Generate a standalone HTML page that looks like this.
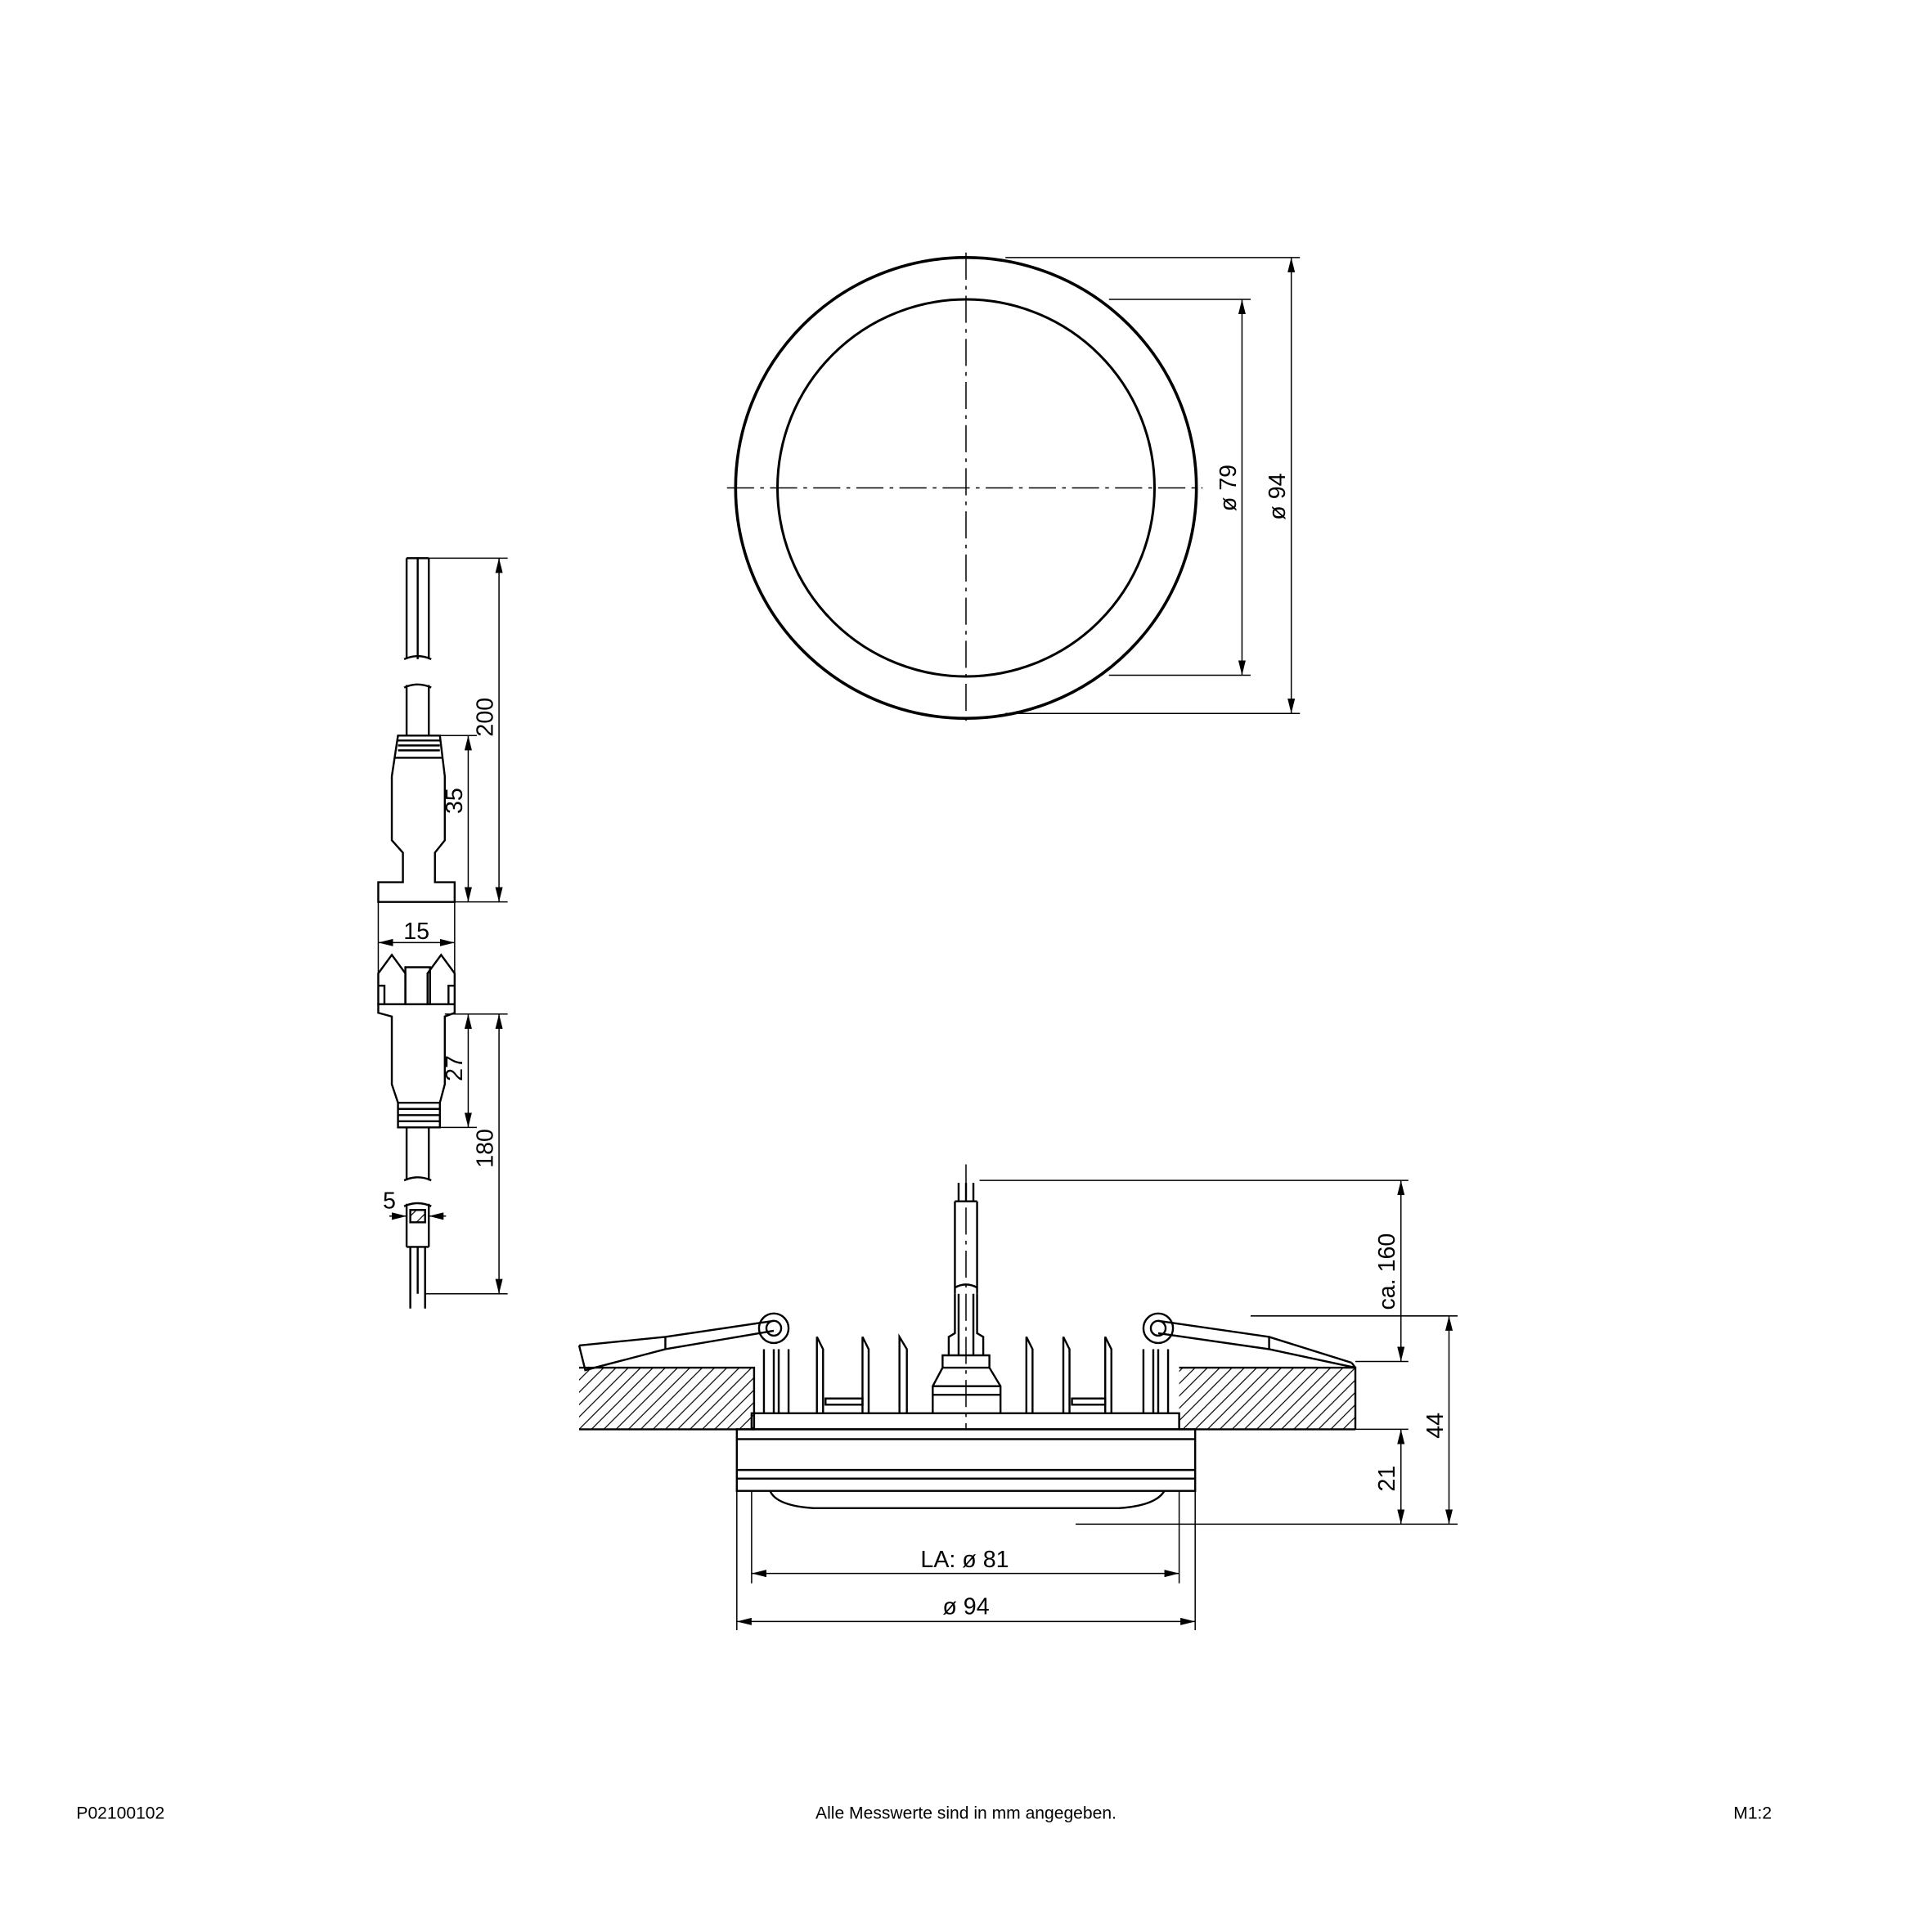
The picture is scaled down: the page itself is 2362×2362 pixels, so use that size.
<!DOCTYPE html>
<html><head><meta charset="utf-8"><style>
html,body{margin:0;padding:0;background:#fff}
svg{display:block}
text{font-family:"Liberation Sans Narrow","Liberation Sans",sans-serif;fill:#000}
</style></head><body>
<svg width="2362" height="2362" viewBox="0 0 1568 1568" xmlns="http://www.w3.org/2000/svg">
<defs>
<marker id="a" viewBox="0 0 12 6" refX="12" refY="3" markerWidth="12" markerHeight="6" orient="auto-start-reverse" markerUnits="userSpaceOnUse"><path d="M0,0 L12,3 L0,6 z" fill="#000"/></marker>
<pattern id="h" width="10" height="10" patternUnits="userSpaceOnUse"><path d="M-2,12 L12,-2 M8,12 L12,8 M-2,2 L2,-2" stroke="#000" stroke-width="0.8"/></pattern>
</defs>
<g fill="none" stroke="#000" stroke-width="1">
<!-- top view -->
<circle cx="784" cy="396" r="187" stroke-width="2.4"/>
<circle cx="784" cy="396" r="153" stroke-width="2"/>
<line x1="784" y1="205" x2="784" y2="590" stroke-dasharray="22,5,3,5"/>
<line x1="590" y1="396" x2="976" y2="396" stroke-dasharray="22,5,3,5"/>
<line x1="816" y1="209" x2="1055" y2="209"/><line x1="816" y1="579" x2="1055" y2="579"/>
<line x1="900" y1="243" x2="1015" y2="243"/><line x1="900" y1="548" x2="1015" y2="548"/>
<line x1="1048" y1="209" x2="1048" y2="579" marker-start="url(#a)" marker-end="url(#a)"/>
<line x1="1008" y1="243" x2="1008" y2="548" marker-start="url(#a)" marker-end="url(#a)"/>

<!-- left connector upper -->
<g stroke-width="1.6">
<path d="M330,453 V535 M348,453 V535 M330,453 H348 M339,453 V535 M328,535 Q339,530 350,535"/>
<path d="M328,558 Q339,553 350,558 M330,556 V597 M348,556 V597"/>
<path d="M323,597 H357 L361,630 V682 L353,692 V716 H369 V732 H307 V716 H327 V692 L318,682 V630 Z"/>
<path d="M323,601 H357 M323,605 H357 M323,609 H357 M320,615 H359"/>
<!-- lower -->
<path d="M307,815 V790 L318,775 L329,790 V815 M369,815 V790 L358,775 L347,790 V815 M307,800 L312,800 L312,815 M369,800 L364,800 L364,815"/>
<path d="M329,785 H349 V815 H329 Z"/>
<path d="M307,815 H369 V822 L361,825 V880 L357,895 H323 L318,880 V825 L307,822 Z"/>
<path d="M323,895 V915 H357 V895 M323,900 H357 M323,905 H357 M323,910 H357"/>
<path d="M330,915 V958 M348,915 V958 M328,958 Q339,953 350,958"/>
<path d="M328,979 Q339,974 350,979 M330,977 V1012 M348,977 V1012 M330,1012 H348 M333,1012 V1050 M345,1012 V1050 M339,1012 V1050 M333,1050 V1062 M345,1050 V1062"/>
<rect x="333" y="982" width="12" height="10" fill="url(#h)"/>
</g>
<line x1="348" y1="453" x2="412" y2="453"/><line x1="369" y1="732" x2="412" y2="732"/>
<line x1="357" y1="597" x2="387" y2="597"/>
<line x1="405" y1="453" x2="405" y2="732" marker-start="url(#a)" marker-end="url(#a)"/>
<line x1="380" y1="597" x2="380" y2="732" marker-start="url(#a)" marker-end="url(#a)"/>
<line x1="307" y1="732" x2="307" y2="790"/><line x1="369" y1="732" x2="369" y2="790"/>
<line x1="307" y1="765" x2="369" y2="765" marker-start="url(#a)" marker-end="url(#a)"/>
<line x1="361" y1="823" x2="412" y2="823"/><line x1="345" y1="1050" x2="412" y2="1050"/>
<line x1="380" y1="823" x2="380" y2="915" marker-start="url(#a)" marker-end="url(#a)"/>
<line x1="357" y1="915" x2="387" y2="915"/>
<line x1="405" y1="823" x2="405" y2="1050" marker-start="url(#a)" marker-end="url(#a)"/>
<line x1="316" y1="987" x2="330" y2="987" marker-end="url(#a)"/>
<line x1="362" y1="987" x2="348" y2="987" marker-end="url(#a)"/>

<!-- side view -->
<g stroke-width="1.6">
<rect x="470" y="1110" width="142" height="50" fill="url(#h)" stroke="none"/>
<rect x="957" y="1110" width="143" height="50" fill="url(#h)" stroke="none"/>
<path d="M470,1160 H612 V1110 H470 M957,1160 H1100 M957,1110 H1100 V1160"/>
<rect x="598" y="1160" width="372" height="50"/>
<path d="M598,1168 H970 M598,1193 H970 M598,1200 H970"/>
<path d="M625,1210 Q630,1222 660,1224 H908 Q938,1222 945,1210"/>
<rect x="610" y="1147" width="347" height="13"/>
<path d="M620,1147 V1095 M628,1147 V1095 M632,1147 V1095 M640,1147 V1095"/>
<path d="M928,1147 V1095 M936,1147 V1095 M940,1147 V1095 M948,1147 V1095"/>
<path d="M663,1147 V1085 L668,1095 V1147 M700,1147 V1085 L705,1095 V1147 M730,1147 V1085 L736,1095 V1147 M833,1147 V1085 L838,1095 V1147 M863,1147 V1085 L868,1095 V1147 M897,1147 V1085 L902,1095 V1147"/>
<path d="M670,1135 H700 V1140 H670 Z M870,1135 H897 V1140 H870 Z"/>
<path d="M757,1147 V1125 L765,1110 V1100 H803 V1110 L812,1125 V1147 M757,1125 H812 M757,1132 H812 M765,1110 H803"/>
<path d="M770,1100 V1085 L775,1082 V1050 M798,1100 V1085 L793,1082 V1050 M778,1100 V1050 M790,1100 V1050"/>
<path d="M775,1050 V975 M793,1050 V975 M775,975 H793 M778,975 V960 M784,975 V960 M790,975 V960 M775,1045 Q784,1040 793,1045"/>
<circle cx="628" cy="1078" r="12"/><circle cx="628" cy="1078" r="6"/>
<circle cx="940" cy="1078" r="12"/><circle cx="940" cy="1078" r="6"/>
<path d="M470,1092 L540,1085 L628,1072 M470,1092 L475,1112 L540,1095 L628,1080 M540,1085 L540,1095"/>
<path d="M1097,1106 L1030,1085 L940,1072 M1097,1106 L1100,1110 M1030,1085 L1030,1095 L940,1082 M1030,1095 L1100,1110"/>
</g>
<line x1="784" y1="945" x2="784" y2="1160" stroke-dasharray="22,5,3,5"/>
<line x1="795" y1="958" x2="1143" y2="958"/>
<line x1="1100" y1="1105" x2="1143" y2="1105"/>
<line x1="1137" y1="958" x2="1137" y2="1105" marker-start="url(#a)" marker-end="url(#a)"/>
<line x1="1015" y1="1068" x2="1183" y2="1068"/>
<line x1="1100" y1="1160" x2="1143" y2="1160"/>
<line x1="873" y1="1237" x2="1183" y2="1237"/>
<line x1="1176" y1="1068" x2="1176" y2="1237" marker-start="url(#a)" marker-end="url(#a)"/>
<line x1="1137" y1="1160" x2="1137" y2="1237" marker-start="url(#a)" marker-end="url(#a)"/>
<line x1="610" y1="1210" x2="610" y2="1285"/><line x1="957" y1="1210" x2="957" y2="1285"/>
<line x1="598" y1="1210" x2="598" y2="1323"/><line x1="970" y1="1210" x2="970" y2="1323"/>
<line x1="610" y1="1277" x2="957" y2="1277" marker-start="url(#a)" marker-end="url(#a)"/>
<line x1="598" y1="1316" x2="970" y2="1316" marker-start="url(#a)" marker-end="url(#a)"/>
</g>
<g font-size="19">
<text transform="translate(1003,396) rotate(-90)" text-anchor="middle">ø 79</text>
<text transform="translate(1043,403) rotate(-90)" text-anchor="middle">ø 94</text>
<text transform="translate(400,582) rotate(-90)" text-anchor="middle">200</text>
<text transform="translate(375,650) rotate(-90)" text-anchor="middle">35</text>
<text x="338" y="762" text-anchor="middle">15</text>
<text transform="translate(375,867) rotate(-90)" text-anchor="middle">27</text>
<text transform="translate(400,932) rotate(-90)" text-anchor="middle">180</text>
<text x="316" y="981" text-anchor="middle">5</text>
<text transform="translate(1132,1032) rotate(-90)" text-anchor="middle">ca. 160</text>
<text transform="translate(1171,1157) rotate(-90)" text-anchor="middle">44</text>
<text transform="translate(1132,1200) rotate(-90)" text-anchor="middle">21</text>
<text x="783" y="1272" text-anchor="middle">LA: ø 81</text>
<text x="784" y="1310" text-anchor="middle">ø 94</text>
</g>
<g font-size="14">
<text x="62" y="1476">P02100102</text>
<text x="784" y="1476" text-anchor="middle">Alle Messwerte sind in mm angegeben.</text>
<text x="1438" y="1476" text-anchor="end">M1:2</text>
</g>
</svg>
</body></html>
